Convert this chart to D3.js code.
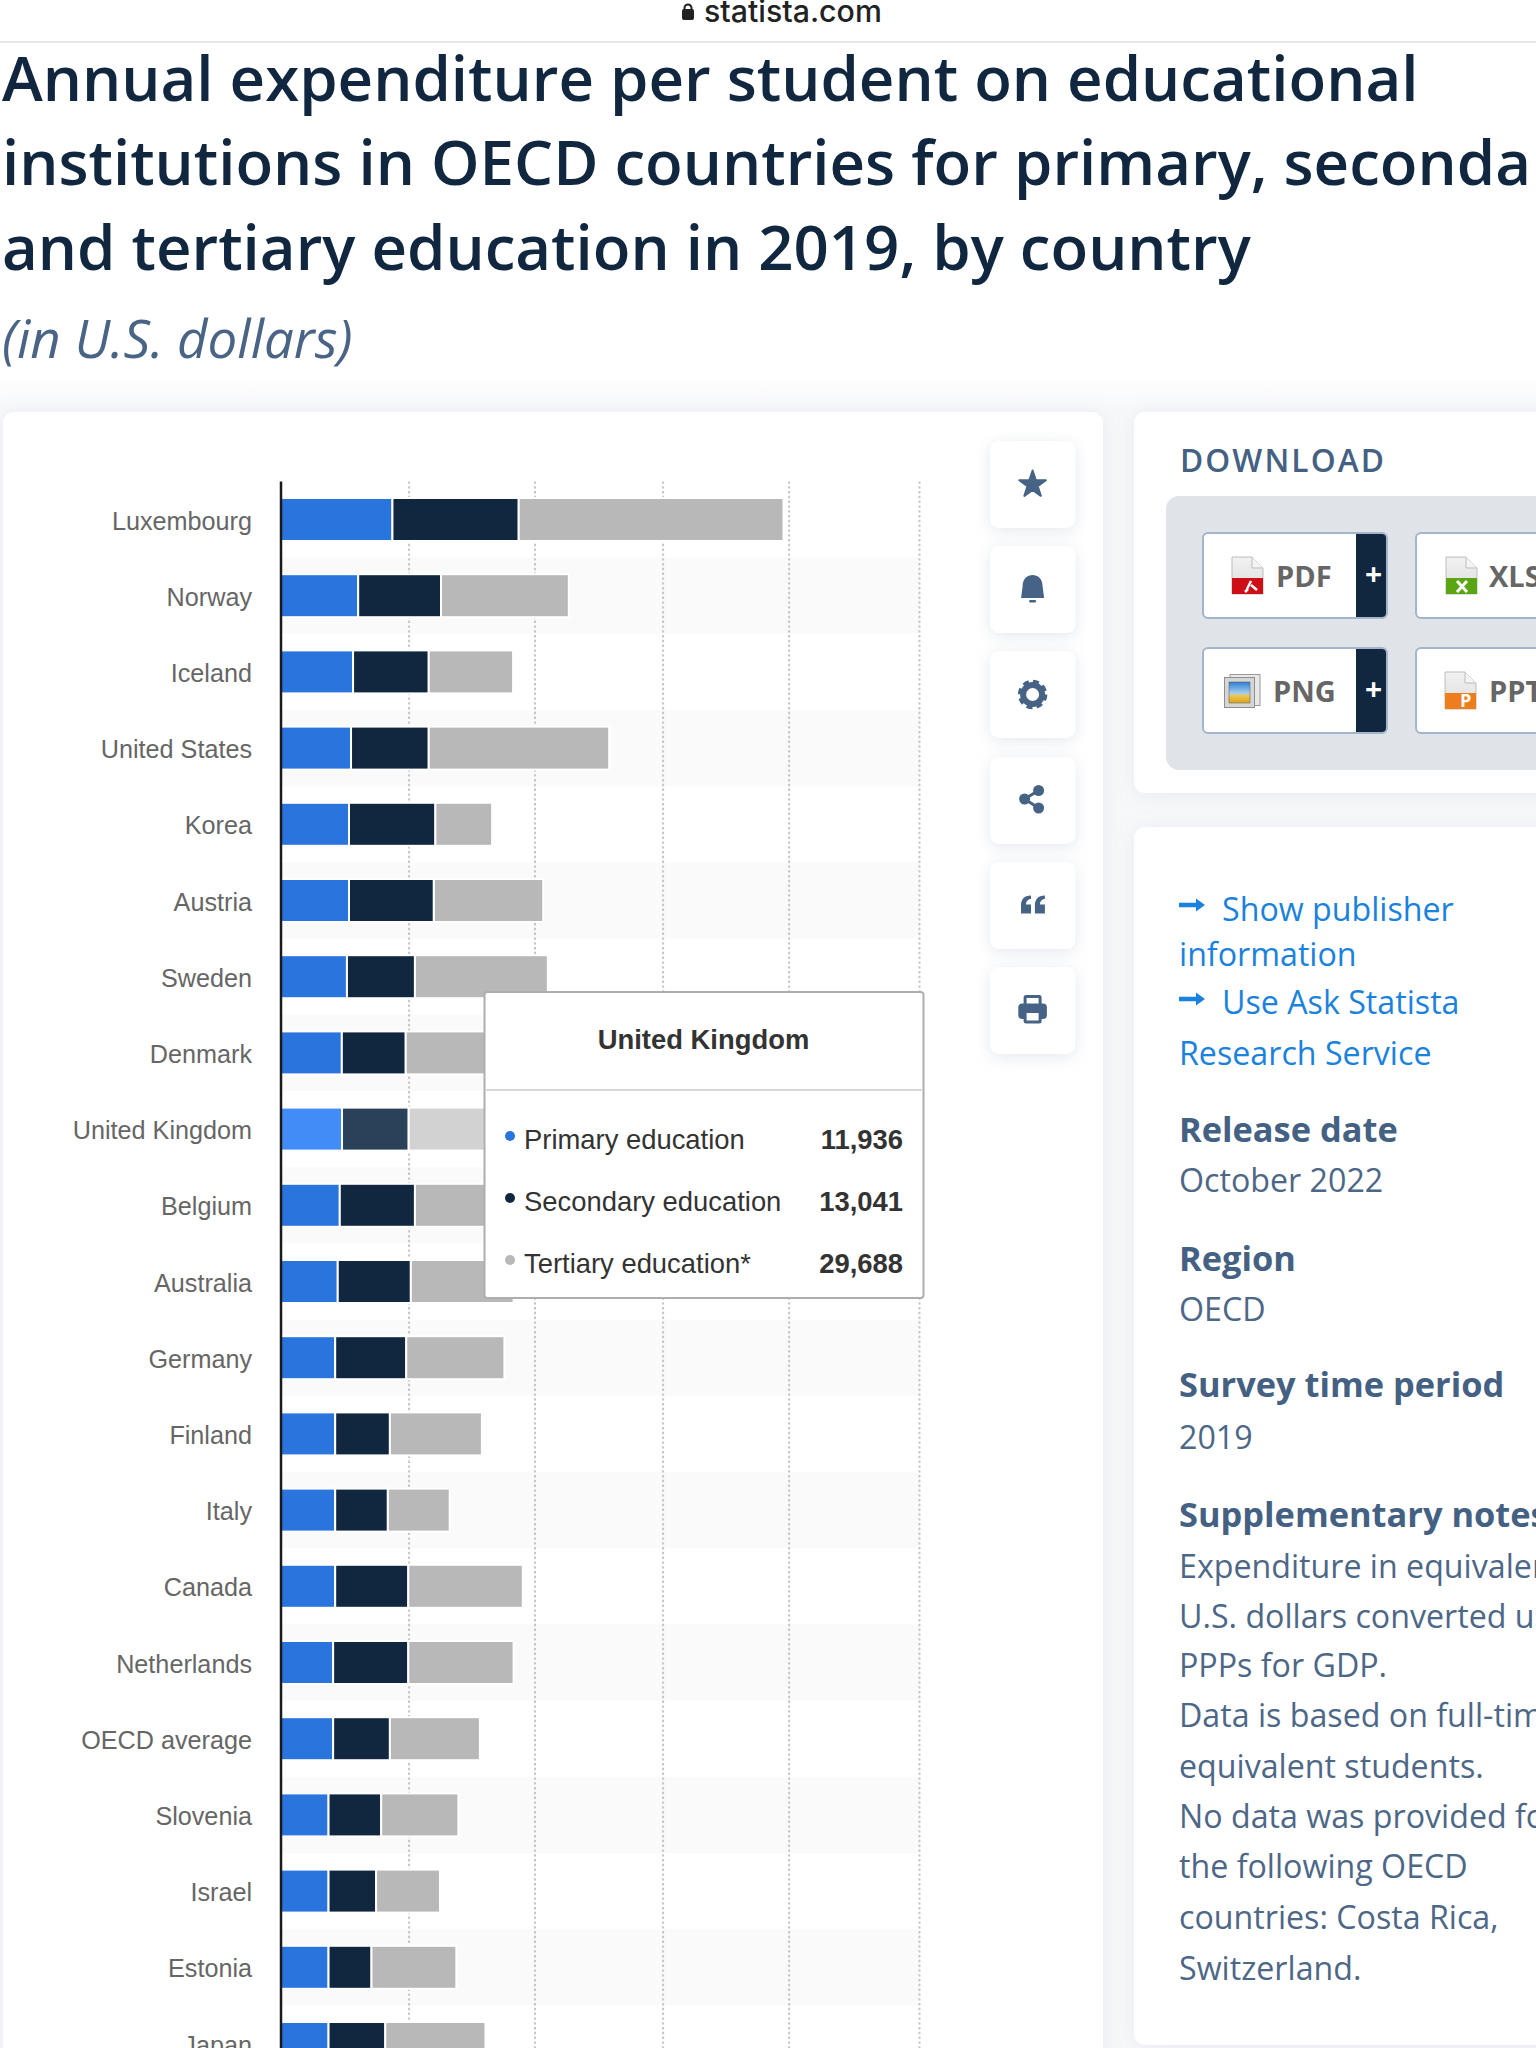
<!DOCTYPE html>
<html>
<head>
<meta charset="utf-8">
<script src="https://cdnjs.cloudflare.com/ajax/libs/d3/7.8.5/d3.min.js"></script>
<style>
    html, body { margin: 0; padding: 0; background: #fff; overflow: hidden; }
    svg { display: block; }
    .sans { font-family: "Open Sans", sans-serif; }
    .arial { font-family: "Liberation Sans", Arial, sans-serif; }
    .grid line { stroke: #c6c6c6; stroke-width: 2; stroke-dasharray: 2.4 2.4; }
    .grid path { display: none; }
    .y-axis path { stroke: #1a1a1a; stroke-width: 2.5; }
    .y-axis text { fill: #666; font-size: 25.2px; font-family: "Liberation Sans", Arial, sans-serif; }
</style>
</head>
<body>
<div id="chart"></div>
<script>
const countries = ["Luxembourg", "Norway", "Iceland", "United States", "Korea", "Austria", "Sweden",
    "Denmark", "United Kingdom", "Belgium", "Australia", "Germany", "Finland", "Italy", "Canada",
    "Netherlands", "OECD average", "Slovenia", "Israel", "Estonia", "Japan"];

const seriesNames = ["Primary education", "Secondary education", "Tertiary education*"];

const primaryValues = [21800, 15100, 14100, 13700, 13300, 13300, 12900, 11900, 11936, 11500, 11100,
    10600, 10600, 10600, 10600, 10200, 10200, 9300, 9300, 9300, 9300];
const secondaryValues = [24700, 16200, 14800, 15200, 16900, 16600, 13300, 12500, 13041, 14700, 14300,
    13900, 10700, 10300, 14300, 14700, 11100, 10300, 9300, 8400, 11100];
const tertiaryValues = [51800, 25000, 16500, 35300, 11100, 21400, 26000, 19900, 29688, 21000, 20100,
    19200, 18000, 12100, 22400, 20600, 17600, 15100, 12500, 16600, 19600];

// the picture shows no tick labels, these are read off the gridline positions
const xTicks = [24960, 49590, 74650, 99300, 124800];

const HOVERED = "United Kingdom";
const colors = ["#2a74de", "#11273f", "#b8b8b8"];
const hoverColors = ["#418cf6", "#2b4159", "#d2d2d2"];
const tooltipValues = ["11,936", "13,041", "29,688"];

const titleLines = ["Annual expenditure per student on educational",
    "institutions in OECD countries for primary, secondary",
    "and tertiary education in 2019, by country"];

const WIDTH = 1536, HEIGHT = 2048;
const MARGIN = { LEFT: 281, RIGHT: 920, TOP: 481.4 };
const STEP = 76.2, BAR_HEIGHT = 43;

const svg = d3.select("#chart").append("svg").attr("width", WIDTH).attr("height", HEIGHT);

function addText(parent, str, x, y, size, fill, opts = {}) {
    return parent.append("text")
        .attr("class", opts.cls || "sans")
        .attr("x", x).attr("y", y)
        .attr("text-anchor", opts.anchor || "start")
        .style("font-size", size + "px")
        .style("font-weight", opts.weight || 400)
        .style("font-style", opts.italic ? "italic" : "normal")
        .style("letter-spacing", opts.spacing || null)
        .style("fill", fill)
        .text(str);
}

const defs = svg.append("defs");
const bgFade = defs.append("linearGradient").attr("id", "bg-fade").attr("x1", 0).attr("y1", 0).attr("x2", 0).attr("y2", 1);
bgFade.append("stop").attr("offset", "0%").attr("stop-color", "#fff");
bgFade.append("stop").attr("offset", "100%").attr("stop-color", "#f7f8fa");
const docFade = defs.append("linearGradient").attr("id", "doc-fade").attr("x1", 0).attr("y1", 0).attr("x2", 0).attr("y2", 1);
docFade.append("stop").attr("offset", "0%").attr("stop-color", "#f2f2f2");
docFade.append("stop").attr("offset", "100%").attr("stop-color", "#dcdcdc");
const picFade = defs.append("linearGradient").attr("id", "pic-fade").attr("x1", 0).attr("y1", 0).attr("x2", 0).attr("y2", 1);
picFade.append("stop").attr("offset", "0%").attr("stop-color", "#2f7fd6");
picFade.append("stop").attr("offset", "55%").attr("stop-color", "#a9d0ee");
picFade.append("stop").attr("offset", "65%").attr("stop-color", "#eec84a");
picFade.append("stop").attr("offset", "100%").attr("stop-color", "#d9a520");

// Page header
svg.append("rect").attr("x", 0).attr("y", 372).attr("width", WIDTH).attr("height", 40).attr("fill", "url(#bg-fade)");
svg.append("rect").attr("x", 0).attr("y", 412).attr("width", WIDTH).attr("height", HEIGHT - 412).attr("fill", "#f7f8fa");
svg.append("rect").attr("x", 0).attr("y", 41).attr("width", WIDTH).attr("height", 2).attr("fill", "#e6e6e6");
addText(svg, "statista.com", 704, 22, 30.3, "#222").style("font-family", "Inter").style("font-weight", 500);
svg.append("rect").attr("x", 682).attr("y", 9).attr("width", 12).attr("height", 11).attr("rx", 2).attr("fill", "#222");
svg.append("path").attr("d", "M684.5 10 v-2 a3.5 3.5 0 0 1 7 0 v2").attr("fill", "none").attr("stroke", "#222").attr("stroke-width", 2);

titleLines.forEach((line, i) => {
    addText(svg, line, 2, [101, 185, 270][i], 61.75, "#11273f", { weight: 600 });
});
addText(svg, "(in U.S. dollars)", 2, 358, 52.8, "#4a6485", { italic: true });

// Cards
const cardShadow = "drop-shadow(0 2px 10px rgba(90,110,140,0.10))";
function addCard(x, y, w, h) {
    svg.append("rect").attr("x", x).attr("y", y).attr("width", w).attr("height", h)
        .attr("rx", 11).attr("fill", "#fff").style("filter", cardShadow);
}
addCard(3, 412, 1100, 1700);
addCard(1134, 412, 500, 381);
addCard(1134, 827, 500, 1218);

// Chart
const x = d3.scaleLinear().domain([0, 125000]).range([MARGIN.LEFT, MARGIN.RIGHT]);
const y = d3.scaleBand().domain(countries).range([MARGIN.TOP, MARGIN.TOP + STEP * countries.length]);

svg.append("g").selectAll("rect")
    .data(countries.filter((d, i) => i % 2 === 1))
    .join("rect")
    .attr("x", MARGIN.LEFT)
    .attr("y", d => y(d))
    .attr("width", MARGIN.RIGHT - MARGIN.LEFT)
    .attr("height", y.bandwidth())
    .attr("fill", "#fafafa");

svg.append("g")
    .attr("class", "grid")
    .attr("transform", `translate(0,${MARGIN.TOP})`)
    .call(d3.axisTop(x).tickValues(xTicks).tickSize(-(STEP * countries.length)).tickFormat(""));

const rows = countries.map((d, i) => ({ country: d, 0: primaryValues[i], 1: secondaryValues[i], 2: tertiaryValues[i] }));
const layers = d3.stack().keys([0, 1, 2])(rows);

svg.append("g").selectAll("g")
    .data(layers)
    .join("g")
    .selectAll("rect")
    .data(d => d.map(p => ({ p, key: d.key })))
    .join("rect")
    .attr("x", d => x(d.p[0]))
    .attr("y", d => y(d.p.data.country) + (y.bandwidth() - BAR_HEIGHT) / 2)
    .attr("width", d => x(d.p[1]) - x(d.p[0]))
    .attr("height", BAR_HEIGHT)
    .attr("fill", d => (d.p.data.country === HOVERED ? hoverColors : colors)[d.key])
    .attr("stroke", "#fff")
    .attr("stroke-width", 2);

svg.append("g")
    .attr("class", "y-axis")
    .attr("transform", `translate(${MARGIN.LEFT},0)`)
    .call(d3.axisLeft(y).tickSize(0).tickPadding(29))
    .call(g => g.select(".domain").attr("d", `M0,${MARGIN.TOP}V${HEIGHT}`))
    .call(g => g.selectAll(".tick text").attr("dy", "0.4em"));

// Tooltip
const tip = svg.append("g");
tip.append("rect").attr("x", 484.5).attr("y", 992).attr("width", 439).attr("height", 306).attr("rx", 3)
    .attr("fill", "#fff").attr("stroke", "#aeaeae").attr("stroke-width", 2);
tip.append("rect").attr("x", 485).attr("y", 1089).attr("width", 438).attr("height", 2).attr("fill", "#d8d8d8");
addText(tip, HOVERED, 703.5, 1049, 27.4, "#333", { cls: "arial", weight: 700, anchor: "middle" });
seriesNames.forEach((name, i) => {
    const by = [1149, 1211, 1273][i];
    tip.append("circle").attr("cx", 510).attr("cy", by - 13).attr("r", 5).attr("fill", colors[i]);
    addText(tip, name, 524, by, 27.4, "#333", { cls: "arial" });
    addText(tip, tooltipValues[i], 903, by, 27.4, "#333", { cls: "arial", weight: 700, anchor: "end" });
});

// Tool buttons
const iconColor = "#466385";
const buttonTops = [441, 546, 651, 757, 862, 967];
buttonTops.forEach(top => {
    svg.append("rect").attr("x", 990).attr("y", top).attr("width", 85.5).attr("height", 87).attr("rx", 9)
        .attr("fill", "#fff").style("filter", "drop-shadow(0 3px 8px rgba(90,110,140,0.16))");
});
const ICON_X = 1032.6;
const icon = i => svg.append("g").attr("transform", `translate(${ICON_X},${buttonTops[i] + 43.5})`).attr("fill", iconColor);

icon(0).append("path").attr("d", d3.symbol(d3.symbolStar, 220)())
    .attr("stroke", iconColor).attr("stroke-width", 2).attr("stroke-linejoin", "round");

const bell = icon(1);
bell.append("path").attr("d", "M-11.5 8.5 L-10 -3 C-10 -11 -5 -14.5 0 -14.5 C5 -14.5 10 -11 10 -3 L11.5 8.5 Z");
bell.append("rect").attr("x", -3.5).attr("y", 10.5).attr("width", 7).attr("height", 2.6).attr("rx", 1.3);

const gear = icon(2);
gear.append("circle").attr("r", 9.5).attr("fill", "none").attr("stroke", iconColor).attr("stroke-width", 6);
gear.append("circle").attr("r", 13).attr("fill", "none").attr("stroke", iconColor).attr("stroke-width", 3.5).attr("stroke-dasharray", "6 4.21");

const share = icon(3);
share.append("path").attr("d", "M6 -10 L-8 -1.5 L6 7.5").attr("fill", "none").attr("stroke", iconColor).attr("stroke-width", 3);
[[6, -10], [-8, -1.5], [6, 7.5]].forEach(c => share.append("circle").attr("cx", c[0]).attr("cy", c[1]).attr("r", 5.5));

const quote = icon(4);
[-11.6, 2.3].forEach(dx => quote.append("path")
    .attr("transform", `translate(${dx},0)`)
    .attr("d", "M0 8 V0 C0 -6 3 -10 10 -10 V-6.5 C7 -6.5 5 -4 5 -1 H10 V8 Z"));

const print = icon(5);
print.append("rect").attr("x", -7.5).attr("y", -14).attr("width", 15).attr("height", 12)
    .attr("fill", "#fff").attr("stroke", iconColor).attr("stroke-width", 3).attr("rx", 1);
print.append("rect").attr("x", -14.3).attr("y", -7).attr("width", 28.6).attr("height", 15.5).attr("rx", 4);
print.append("rect").attr("x", -7.5).attr("y", 1).attr("width", 15).attr("height", 10.5)
    .attr("fill", "#fff").attr("stroke", iconColor).attr("stroke-width", 3).attr("rx", 1);

// Download card
addText(svg, "DOWNLOAD", 1180, 471.5, 31.7, "#446183", { weight: 600, spacing: "2.1px" });
svg.append("rect").attr("x", 1166).attr("y", 496).attr("width", 420).attr("height", 274).attr("rx", 13).attr("fill", "#e0e3e7");

function downloadButton(bx, by, w, label, lx, hasPlus) {
    svg.append("rect").attr("x", bx).attr("y", by).attr("width", w).attr("height", 85).attr("rx", 5)
        .attr("fill", "#fff").attr("stroke", "#a3b5cb").attr("stroke-width", 2);
    if (hasPlus) {
        svg.append("path").attr("d", `M${bx + 153} ${by + 1} h26 a4 4 0 0 1 4 4 v75 a4 4 0 0 1 -4 4 h-26 Z`).attr("fill", "#11273f");
        addText(svg, "+", bx + 170.5, by + 52, 30, "#fff", { weight: 700, anchor: "middle" });
    }
    addText(svg, label, lx, by + 54, 29, "#666", { weight: 700 });
}
function docIcon(dx, dy, color) {
    svg.append("path").attr("d", `M${dx} ${dy} h20 l11 11 v26 h-31 Z`).attr("fill", "url(#doc-fade)").attr("stroke", "#bdbdbd").attr("stroke-width", 1);
    svg.append("path").attr("d", `M${dx + 20} ${dy} v11 h11`).attr("fill", "#f4f4f4").attr("stroke", "#bdbdbd").attr("stroke-width", 1);
    svg.append("rect").attr("x", dx).attr("y", dy + 21).attr("width", 31).attr("height", 16).attr("fill", color);
}
downloadButton(1203, 533, 184, "PDF", 1276, true);
downloadButton(1203, 648, 184, "PNG", 1273, true);
downloadButton(1416, 533, 184, "XLS", 1489, false);
downloadButton(1416, 648, 184, "PPT", 1489, false);

docIcon(1232, 557, "#cc1016");
svg.append("path").attr("d", "M1251 581 L1247 589 M1251 585 L1257 590 M1245 592 L1248 589")
    .attr("stroke", "#fff").attr("stroke-width", 2.5).attr("fill", "none");
docIcon(1446, 557, "#5aa513");
svg.append("path").attr("d", "M1457 581 L1467 592 M1467 581 L1457 592").attr("stroke", "#fff").attr("stroke-width", 3);
docIcon(1445, 672, "#ee7d1c");
addText(svg, "P", 1460, 707, 18, "#fff", { weight: 700 });

// PNG picture icon
svg.append("rect").attr("x", 1230).attr("y", 674.5).attr("width", 30).attr("height", 31).attr("fill", "#e8e8e8").attr("stroke", "#9a9a9a");
svg.append("rect").attr("x", 1224.5).attr("y", 677.5).attr("width", 30).attr("height", 30).attr("fill", "#d6d6d6").attr("stroke", "#8e8e8e");
svg.append("rect").attr("x", 1229).attr("y", 682).attr("width", 21).attr("height", 21).attr("fill", "url(#pic-fade)").attr("stroke", "#555").attr("stroke-width", 0.5);

// Info card
const LINK = "#1a82dc", INFO = "#4d6787", HEAD = "#446183", INFO_X = 1179, INFO_SIZE = 32.2;
function arrow(ay) {
    svg.append("path").attr("d", `M${INFO_X} ${ay - 2.2} h17 v-4.2 l9 6.4 l-9 6.4 v-4.2 h-17 Z`).attr("fill", LINK);
}
arrow(905);
addText(svg, "Show publisher", 1222, 921, INFO_SIZE, LINK);
addText(svg, "information", INFO_X, 966, INFO_SIZE, LINK);
arrow(999);
addText(svg, "Use Ask Statista", 1222, 1014, INFO_SIZE, LINK);
addText(svg, "Research Service", INFO_X, 1065, INFO_SIZE, LINK);

[["Release date", 1142], ["Region", 1271], ["Survey time period", 1397], ["Supplementary notes", 1527]]
    .forEach(d => addText(svg, d[0], INFO_X, d[1], 34.4, HEAD, { weight: 700 }));

[["October 2022", 1192], ["OECD", 1321], ["2019", 1449],
    ["Expenditure in equivalent", 1578], ["U.S. dollars converted using", 1628], ["PPPs for GDP.", 1677],
    ["Data is based on full-time", 1727], ["equivalent students.", 1778], ["No data was provided for", 1828],
    ["the following OECD", 1878], ["countries: Costa Rica,", 1929], ["Switzerland.", 1980]]
    .forEach(d => addText(svg, d[0], INFO_X, d[1], INFO_SIZE, INFO));
</script>
</body>
</html>
